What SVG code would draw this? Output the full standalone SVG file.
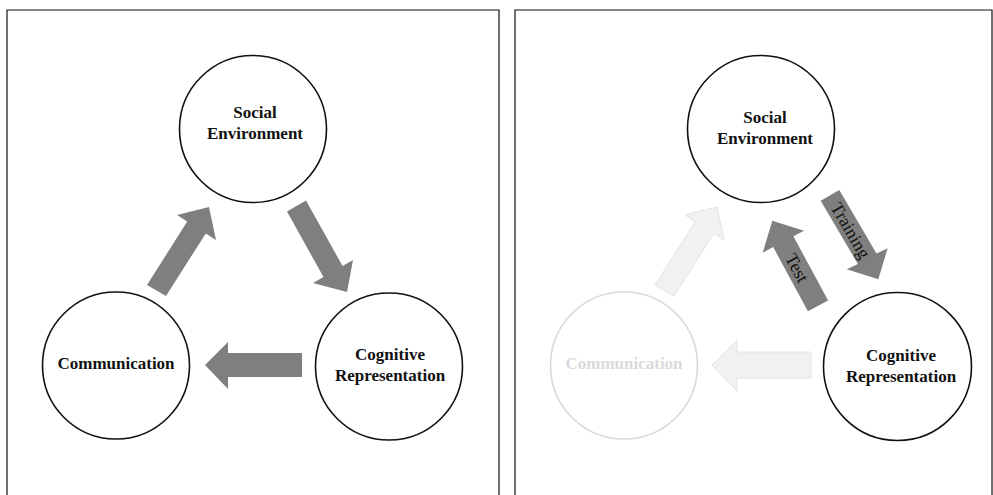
<svg xmlns="http://www.w3.org/2000/svg" width="993" height="495" viewBox="0 0 993 495">
<style>
.panel{fill:none;stroke:#111;stroke-width:1.2}
.node{fill:#fff;stroke:#111;stroke-width:1.6}
.fnode{fill:#fff;stroke:#d9d9d9;stroke-width:1.6}
.lbl{font-family:"Liberation Serif","Times New Roman",serif;font-weight:bold;font-size:17px;fill:#111;text-anchor:middle}
.flbl{font-family:"Liberation Serif","Times New Roman",serif;font-weight:bold;font-size:17px;fill:#dadada;text-anchor:middle}
.arr{fill:#7f7f7f}
.farr{fill:#f1f1f1;stroke:#e4e4e4;stroke-width:1}
.alb{font-family:"Liberation Serif","Times New Roman",serif;font-size:18px;fill:#111;text-anchor:middle;dominant-baseline:central}
</style>
<rect width="993" height="495" fill="#fff"/>
<g id="panels">
<path class="panel" d="M7,500 V10 H499 V500"/>
<path class="panel" d="M515,500 V10 H992 V500"/>
</g>
<g id="connectors">
<polygon class="arr" points="147,285 187.2,221.6 177,215 209,207 216,240 205.8,233.4 166,296"/>
<polygon class="arr" points="287,211.6 306,200.4 342.5,265.9 353,260 347,292 313,283 323.5,277.1"/>
<polygon class="arr" points="302,353 228,353 228,342 205,365 228,389 228,377 302,377"/>
<polygon class="farr" points="655,285 695.2,221.6 685,215 717,207 724,240 713.8,233.4 674,296"/>
<polygon class="farr" points="811,352 737,352 737,340 712,365 737,391 737,378 811,378"/>
<polygon class="arr" points="820.7,200.7 839.3,190 876.5,253.5 887.7,248.3 878.3,279.3 846.7,269.3 857.9,264.1"/>
<polygon class="arr" points="807.9,311.2 773.2,247.1 762.7,252.7 772.3,220.7 804,230.7 793.4,236.3 828.1,300.4"/>
<text class="alb" transform="translate(850.5,230.5) rotate(60)">Training</text>
<text class="alb" transform="translate(797,268) rotate(61.5)">Test</text>
</g>
<g id="social-left">
<circle class="node" cx="253" cy="129" r="73.5"/>
<text class="lbl" x="255" y="117.5">Social</text>
<text class="lbl" x="255" y="138.5">Environment</text>
</g>
<g id="communication-left">
<circle class="node" cx="116" cy="365.5" r="73.5"/>
<text class="lbl" x="116" y="369">Communication</text>
</g>
<g id="cognitive-left">
<circle class="node" cx="389" cy="366.5" r="73.5"/>
<text class="lbl" x="390" y="360">Cognitive</text>
<text class="lbl" x="390" y="380.5">Representation</text>
</g>
<g id="social-right">
<circle class="node" cx="761" cy="129" r="73.5"/>
<text class="lbl" x="765" y="123">Social</text>
<text class="lbl" x="765" y="144">Environment</text>
</g>
<g id="communication-right">
<circle class="fnode" cx="624" cy="365.5" r="73.5"/>
<text class="flbl" x="624" y="369">Communication</text>
</g>
<g id="cognitive-right">
<circle class="node" cx="897.5" cy="366.5" r="74"/>
<text class="lbl" x="901" y="361">Cognitive</text>
<text class="lbl" x="901" y="381.5">Representation</text>
</g>
</svg>
